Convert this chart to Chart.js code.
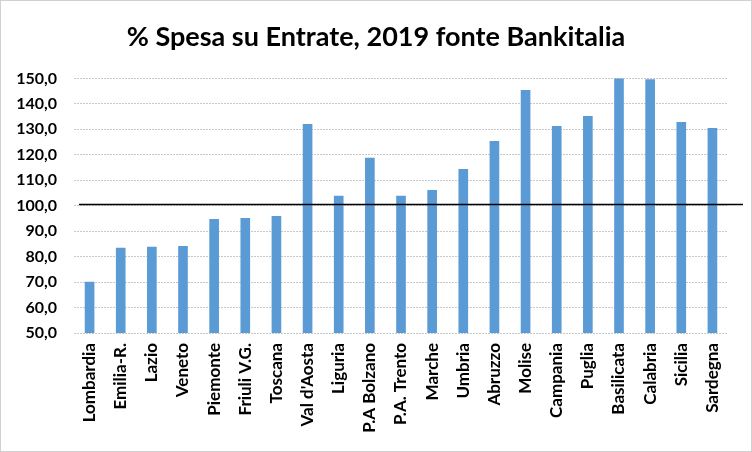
<!DOCTYPE html>
<html>
<head>
<meta charset="utf-8">
<script src="https://cdn.jsdelivr.net/npm/chart.js@4"></script>
<style>
html,body{margin:0;padding:0;background:#fff;}
#wrap{width:752px;height:452px;}
</style>
</head>
<body>
<div id="wrap"><canvas id="c" width="752" height="452"></canvas></div>
<script>
const categories = ["Lombardia","Emilia-R.","Lazio","Veneto","Piemonte","Friuli V.G.","Toscana","Val d'Aosta","Liguria","P.A Bolzano","P.A. Trento","Marche","Umbria","Abruzzo","Molise","Campania","Puglia","Basilicata","Calabria","Sicilia","Sardegna"];
const spesaSuEntrate = [70.1,83.5,83.9,84.2,94.8,95.2,96.0,132.1,103.9,118.8,103.9,106.2,114.4,125.4,145.4,131.3,135.2,151.0,149.7,132.9,130.5];
const referenceLevel = 100.5;
const titleText = "% Spesa su Entrate, 2019 fonte Bankitalia";
const yMin = 50, yMax = 150, yStep = 10;

const FONT = "Lato, 'Open Sans', sans-serif";

const refLinePlugin = {
  id: 'refLine',
  afterDatasetsDraw(chart) {
    const {ctx, chartArea, scales} = chart;
    const y = Math.round(scales.y.getPixelForValue(referenceLevel)) + 0.5;
    ctx.save();
    ctx.strokeStyle = '#000';
    ctx.lineWidth = 1.3;
    ctx.beginPath();
    ctx.moveTo(chartArea.left + 5, y);
    ctx.lineTo(chartArea.right + 15, y);
    ctx.stroke();
    ctx.restore();
  }
};
const borderPlugin = {
  id: 'outerBorder',
  beforeDraw(chart) {
    const ctx = chart.ctx;
    ctx.save();
    ctx.fillStyle = '#fff';
    ctx.fillRect(0, 0, chart.width, chart.height);
    ctx.strokeStyle = '#d0d0d0';
    ctx.lineWidth = 1;
    ctx.strokeRect(0.5, 0.5, chart.width - 1, chart.height - 1);
    ctx.restore();
  }
};

new Chart(document.getElementById('c'), {
  type: 'bar',
  data: {
    labels: categories,
    datasets: [{
      data: spesaSuEntrate,
      backgroundColor: '#5b9bd5',
      borderWidth: 0,
      barPercentage: 0.31,
      categoryPercentage: 1.0
    }]
  },
  options: {
    responsive: false,
    animation: false,
    devicePixelRatio: 1,
    layout: { padding: 0 },
    plugins: {
      legend: { display: false },
      tooltip: { enabled: false },
      title: {
        display: true,
        text: titleText,
        color: '#000',
        font: { family: FONT, size: 27, weight: 'bold' },
        padding: { top: 21, bottom: 25 }
      }
    },
    scales: {
      x: {
        grid: { display: false, drawTicks: false },
        border: { display: false },
        ticks: {
          color: '#000',
          font: { family: FONT, size: 17, weight: 'bold' },
          minRotation: 90,
          maxRotation: 90,
          autoSkip: false,
          padding: 10
        },
        afterFit(scale) { scale.height = 119; }
      },
      y: {
        min: yMin,
        max: yMax,
        grid: { color: '#c8c8c8', lineWidth: 1, drawTicks: false },
        border: { display: false, dash: [2, 1] },
        ticks: {
          stepSize: yStep,
          color: '#000',
          padding: 17,
          font: { family: FONT, size: 16, weight: 'bold' },
          callback: v => v.toFixed(1).replace('.', ',')
        },
        afterFit(scale) { scale.width = 74; }
      },
      yRight: {
        position: 'right',
        min: yMin,
        max: yMax,
        grid: { display: false, drawTicks: false },
        border: { display: false },
        ticks: { display: false },
        afterFit(scale) { scale.width = 24; }
      }
    }
  },
  plugins: [borderPlugin, refLinePlugin]
});
</script>
</body>
</html>
